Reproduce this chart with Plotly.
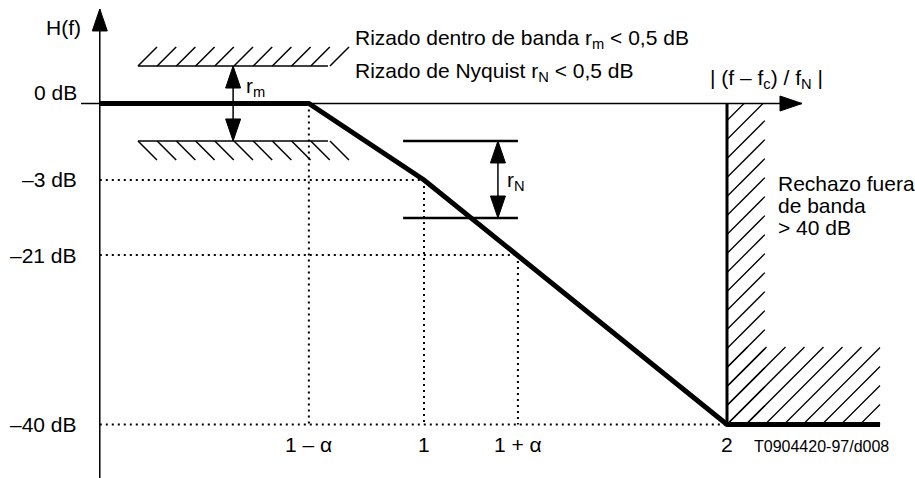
import plotly.graph_objects as go

# ---------------- data (schematic units) ----------------
# horizontal: normalised frequency |(f - fc)/fN|
freq_tick_pos = [0.62, 1.0, 1.31, 2.0]
freq_tick_labels = ["1 \u2013 \u03b1", "1", "1 + \u03b1", "2"]
# vertical: schematic attenuation level (not to scale)
level_tick_pos = [0.0, -9.53, -18.88, -40.0]
level_tick_labels = ["0 dB", "\u20133 dB", "\u201321 dB", "\u201340 dB"]

# filter response mask (thick curve)
resp_x = [-0.07, 0.62, 1.0, 2.0, 2.505]
resp_y = [0.0, 0.0, -9.53, -40.0, -40.0]

axis_x0 = -0.07           # position of the H(f) axis
xaxis_start, xaxis_tip = -0.132, 2.2475
yaxis_bottom, yaxis_tip = -46.67, 11.78

rm_band_x = [0.056, 0.683]     # in-band ripple limits
rm_band_y = [4.67, -4.67]
rm_arrow_x = 0.37
rn_band_x = [0.931, 1.310]     # Nyquist ripple limits
rn_band_y = [-4.67, -14.27]
rn_arrow_x = 1.244
reject_strip = [2.0, 2.125, 0.0, -40.0]     # x0, x1, ytop, ybot
reject_block = [2.0, 2.505, -30.34, -40.0]

# ---------------- drawing scale ----------------
W, H = 915, 478
KX, X0PX = 303.0, 121.0        # px per freq unit, px of f=0
KY, Y0PX = 8.025, 103.5        # px per level unit, px of level 0
px_x = lambda x: X0PX + x * KX
px_y = lambda y: Y0PX - y * KY
ux = lambda p: (p - X0PX) / KX
uy = lambda p: (Y0PX - p) / KY

FONT = "Liberation Sans, Arial, Helvetica, sans-serif"
fig = go.Figure()


def seg_trace(xs, ys, width, dash="solid", color="black"):
    fig.add_trace(go.Scatter(x=xs, y=ys, mode="lines", hoverinfo="skip",
                             line=dict(color=color, width=width, dash=dash)))


def tri(tip_x, tip_y, direction, length=22, half=7.5):
    tx, ty = px_x(tip_x), px_y(tip_y)
    if direction == "up":
        pts = [(tx, ty), (tx - half, ty + length), (tx + half, ty + length)]
    elif direction == "down":
        pts = [(tx, ty), (tx - half, ty - length), (tx + half, ty - length)]
    else:  # right
        pts = [(tx, ty), (tx - length, ty - half), (tx - length, ty + half)]
    xs = [ux(p[0]) for p in pts] + [ux(pts[0][0])]
    ys = [uy(p[1]) for p in pts] + [uy(pts[0][1])]
    fig.add_trace(go.Scatter(x=xs, y=ys, mode="lines", fill="toself",
                             fillcolor="black", hoverinfo="skip",
                             line=dict(color="black", width=1)))


# dotted reference lines
dx, dy = [], []
for yv, xe in [(level_tick_pos[1], freq_tick_pos[1]),
               (level_tick_pos[2], freq_tick_pos[2]),
               (level_tick_pos[3], freq_tick_pos[3])]:
    dx += [axis_x0, xe, None]
    dy += [yv, yv, None]
for xv, ys in [(freq_tick_pos[0], level_tick_pos[0]),
               (freq_tick_pos[1], level_tick_pos[1]),
               (freq_tick_pos[2], level_tick_pos[2])]:
    dx += [xv, xv, None]
    dy += [ys, level_tick_pos[3], None]
seg_trace(dx, dy, 2, dash="2px,4px")

# axes
seg_trace([xaxis_start, xaxis_tip], [0, 0], 1.5)
seg_trace([axis_x0, axis_x0], [yaxis_bottom, yaxis_tip], 1.5)
tri(xaxis_tip, 0, "right")
tri(axis_x0, yaxis_tip, "up")

# in-band ripple hatched bars
hx, hy = [], []
for yb in rm_band_y:
    hx += [rm_band_x[0], rm_band_x[1], None]
    hy += [yb, yb, None]
step, hl = 19.2, 19.0
for k in range(11):
    bx = px_x(rm_band_x[0]) + k * step
    # upper bar: hatches up-right (last one doubles as the leader line)
    hx += [ux(bx), ux(bx + hl), None]
    hy += [rm_band_y[0], uy(px_y(rm_band_y[0]) - hl), None]
    # lower bar: hatches down-right
    hx += [ux(bx), ux(bx + hl), None]
    hy += [rm_band_y[1], uy(px_y(rm_band_y[1]) + hl), None]
seg_trace(hx, hy, 1.5)

# r_m arrow
seg_trace([rm_arrow_x, rm_arrow_x], rm_band_y, 1.5)
tri(rm_arrow_x, rm_band_y[0], "up")
tri(rm_arrow_x, rm_band_y[1], "down")

# Nyquist ripple
nx, ny = [], []
for yb in rn_band_y:
    nx += [rn_band_x[0], rn_band_x[1], None]
    ny += [yb, yb, None]
seg_trace(nx, ny, 2.5)
seg_trace([rn_arrow_x, rn_arrow_x], rn_band_y, 1.5)
tri(rn_arrow_x, rn_band_y[0], "up")
tri(rn_arrow_x, rn_band_y[1], "down")

# rejection region hatch (45 deg lines clipped to L-shaped zone)
rx, ry = [], []
by = px_y(reject_strip[3])
for k in range(-18, 10):
    bxp = px_x(reject_strip[0]) + 19.0 * k
    for (x0, x1, yt, yb) in (reject_strip, reject_block):
        X1, X2 = px_x(x0), px_x(x1)
        T, B = px_y(yt), px_y(yb)
        t0 = max(X1 - bxp, by - B)
        t1 = min(X2 - bxp, by - T)
        if t1 > t0 + 0.5:
            rx += [ux(bxp + t0), ux(bxp + t1), None]
            ry += [uy(by - t0), uy(by - t1), None]
seg_trace(rx, ry, 1.3)
seg_trace([reject_strip[0], reject_strip[0]], [reject_strip[2], reject_strip[3]], 3)

# thick response line
fig.add_trace(go.Scatter(x=resp_x, y=resp_y, mode="lines", hoverinfo="skip",
                         line=dict(color="black", width=5)))

# ---------------- text ----------------
def txt(x, y, s, size=21, xanchor="left", yanchor="middle"):
    fig.add_annotation(x=x, y=y, text=s, showarrow=False, xanchor=xanchor,
                       yanchor=yanchor, font=dict(family=FONT, size=size, color="black"))


txt(-0.191, 9.53, "H(f)", xanchor="center")
label_y = [1.43, level_tick_pos[1], level_tick_pos[2], level_tick_pos[3]]
for yv, lab in zip(label_y, level_tick_labels):
    txt(-0.139, yv, lab, xanchor="right")
for xv, lab in zip(freq_tick_pos, freq_tick_labels):
    txt(xv, -42.55, lab, xanchor="center")
txt(2.083, -42.8, "T0904420-97/d008", size=16)

txt(0.766, 8.1, "Rizado dentro de banda r<sub>m</sub> &lt; 0,5 dB")
txt(0.766, 3.9, "Rizado de Nyquist r<sub>N</sub> &lt; 0,5 dB")
txt(1.937, 3.0, "| (f \u2013 f<sub>c</sub>) / f<sub>N</sub> |")
txt(0.405, 2.1, "r<sub>m</sub>")
txt(1.268, -9.7, "r<sub>N</sub>")
txt(2.162, -9.91, "Rechazo fuera")
txt(2.162, -12.65, "de banda")
txt(2.162, -15.39, "&gt; 40 dB")

fig.update_layout(
    width=W, height=H, autosize=False,
    margin=dict(l=0, r=0, t=0, b=0),
    paper_bgcolor="white", plot_bgcolor="white",
    font=dict(family=FONT, size=21, color="black"),
    showlegend=False,
    xaxis=dict(range=[ux(0), ux(W)], visible=False, fixedrange=True),
    yaxis=dict(range=[uy(H), uy(0)], visible=False, fixedrange=True),
)

fig.write_html("out.html", include_plotlyjs=True, full_html=True,
               config={"displayModeBar": False},
               post_script="document.body.style.margin='0';")
